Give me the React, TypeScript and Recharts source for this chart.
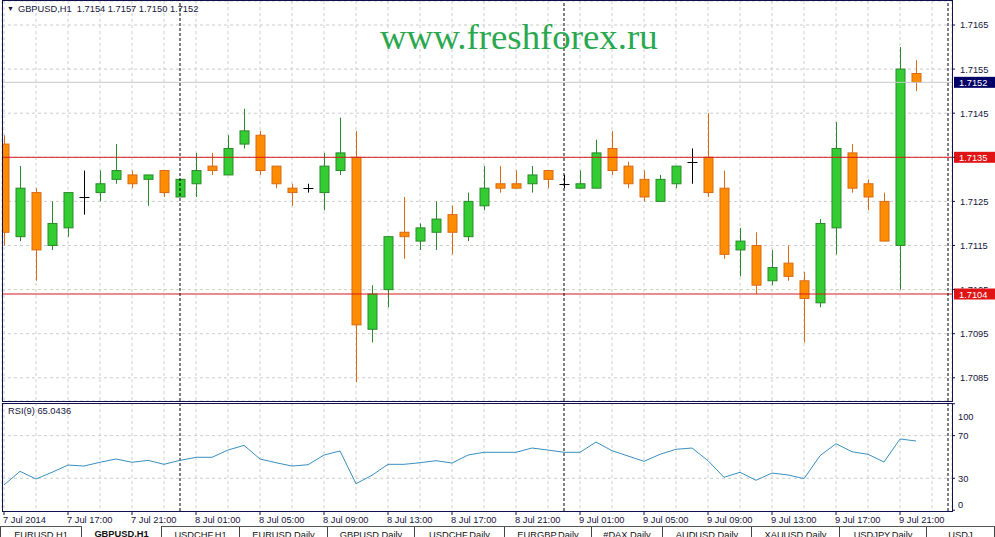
import React from 'react'
import {
  ComposedChart,
  LineChart,
  Line,
  Bar,
  XAxis,
  YAxis,
  CartesianGrid,
  ReferenceLine,
} from 'recharts'

// GBPUSD H1, 7 Jul 13:00 .. 9 Jul 22:00
const opens = [
  1.7138, 1.7117, 1.7127, 1.7115, 1.7119, 1.7126, 1.7127, 1.713, 1.7131, 1.713,
  1.7132, 1.7126, 1.7129, 1.7133, 1.7131, 1.7138, 1.714, 1.7133, 1.7128, 1.7128,
  1.7127, 1.7132, 1.7135, 1.7096, 1.7105, 1.7118, 1.7116, 1.7118, 1.7122, 1.7117,
  1.7124, 1.7129, 1.7129, 1.7129, 1.7132, 1.7129, 1.7128, 1.7128, 1.7137, 1.7133,
  1.713, 1.7125, 1.7129, 1.7134, 1.7135, 1.7128, 1.7114, 1.7115, 1.7107, 1.7111,
  1.7107, 1.7102, 1.7119, 1.7136, 1.7129, 1.7125, 1.7115, 1.7154,
]
const highs = [
  1.714, 1.7133, 1.7128, 1.7125, 1.7127, 1.7132, 1.7132, 1.7138, 1.7132, 1.7131,
  1.7132, 1.713, 1.7136, 1.7136, 1.714, 1.7146, 1.7141, 1.7133, 1.7129, 1.7129,
  1.7136, 1.7144, 1.7141, 1.7106, 1.7117, 1.7126, 1.712, 1.7125, 1.7124, 1.7127,
  1.7133, 1.7133, 1.7132, 1.7133, 1.7132, 1.7131, 1.7132, 1.7139, 1.7141, 1.7134,
  1.7132, 1.7131, 1.7133, 1.7137, 1.7145, 1.7132, 1.7119, 1.7118, 1.7114, 1.7115,
  1.7109, 1.7121, 1.7143, 1.7138, 1.713, 1.7127, 1.716, 1.7157,
]
const lows = [
  1.7115, 1.7116, 1.7107, 1.7114, 1.7117, 1.7122, 1.7125, 1.7129, 1.7128, 1.7124,
  1.7126, 1.7126, 1.7126, 1.7131, 1.7131, 1.7137, 1.7131, 1.7128, 1.7124, 1.7127,
  1.7123, 1.7131, 1.7084, 1.7093, 1.7101, 1.7112, 1.7114, 1.7114, 1.7113, 1.7116,
  1.7123, 1.7127, 1.7128, 1.7127, 1.7128, 1.7128, 1.7128, 1.7128, 1.7131, 1.7128,
  1.7125, 1.7125, 1.7128, 1.7129, 1.7126, 1.7112, 1.7108, 1.7104, 1.7106, 1.7107,
  1.7093, 1.7101, 1.7113, 1.7127, 1.7123, 1.7116, 1.7105, 1.715,
]
const closes = [
  1.7118, 1.7128, 1.7114, 1.712, 1.7127, 1.7126, 1.7129, 1.7132, 1.7129, 1.7131,
  1.7127, 1.713, 1.7132, 1.7132, 1.7137, 1.7141, 1.7132, 1.7129, 1.7127, 1.7128,
  1.7133, 1.7136, 1.7097, 1.7104, 1.7117, 1.7117, 1.7119, 1.7121, 1.7118, 1.7125,
  1.7128, 1.7128, 1.7128, 1.7131, 1.713, 1.7129, 1.7129, 1.7136, 1.7132, 1.7129,
  1.7126, 1.713, 1.7133, 1.7134, 1.7127, 1.7113, 1.7116, 1.7106, 1.711, 1.7108,
  1.7103, 1.712, 1.7137, 1.7128, 1.7126, 1.7116, 1.7155, 1.7152,
]
const rsiValues = [
  23.7, 36.5, 29.3, 35.6, 42.4, 41.5, 45.0, 48.1, 45.0, 46.8,
  43.1, 46.8, 49.7, 49.7, 56.5, 60.9, 48.1, 44.6, 41.5, 42.7,
  51.8, 55.6, 24.9, 32.8, 43.1, 43.1, 44.6, 46.5, 44.3, 51.8,
  54.4, 54.4, 54.4, 58.4, 56.5, 54.4, 54.4, 64.0, 55.9, 50.9,
  45.9, 52.5, 57.2, 58.4, 46.5, 30.9, 35.6, 28.1, 34.9, 33.1,
  29.6, 51.2, 62.5, 54.9, 52.5, 45.3, 66.9, 65.0,
]
const timeLabels = [
  '7 Jul 2014', '7 Jul 17:00', '7 Jul 21:00', '8 Jul 01:00', '8 Jul 05:00',
  '8 Jul 09:00', '8 Jul 13:00', '8 Jul 17:00', '8 Jul 21:00', '9 Jul 01:00',
  '9 Jul 05:00', '9 Jul 09:00', '9 Jul 13:00', '9 Jul 17:00', '9 Jul 21:00',
]
const priceTicks = [1.7085, 1.7095, 1.7105, 1.7115, 1.7125, 1.7135, 1.7145, 1.7155, 1.7165]
const rsiTicks = [0, 30, 70, 100]
const daySeparators = [11, 35]
const levels = [1.7135, 1.7104]
const bid = 1.7152
const tabs = [
  'EURUSD,H1', 'GBPUSD,H1', 'USDCHF,H1', 'EURUSD,Daily', 'GBPUSD,Daily', 'USDCHF,Daily',
  'EURGBP,Daily', '#DAX,Daily', 'AUDUSD,Daily', 'XAUUSD,Daily', 'USDJPY,Daily', 'USDJ',
]
const tabWidths = [82, 80, 78, 88, 87, 90, 87, 71, 89, 88, 87, 68]

const data = opens.map((o, i) => ({
  i,
  open: o,
  high: highs[i],
  low: lows[i],
  close: closes[i],
  range: [lows[i], highs[i]],
  rsi: rsiValues[i],
}))

const gridTicks = Array.from({ length: 30 }, (_, k) => k * 2)
const xDomain = [-0.125, 59.25]
const FONT = '"Liberation Sans", Arial, sans-serif'
const INK = '#14143c'
const FRAME = '#10104a'

const Candle = (props: any) => {
  const { x, y, width, height, payload } = props
  const { open, close, high, low } = payload
  const top = Math.min(y, y + height)
  const h = Math.abs(height)
  const py = (v: number) => top + ((high - v) / (high - low)) * h
  const cx = Math.round(x + width / 2) + 0.5
  if (open === close) {
    const yy = Math.round(py(open)) + 0.5
    return (
      <g>
        <line x1={cx} x2={cx} y1={top} y2={top + h} stroke="#000" />
        <line x1={cx - 5} x2={cx + 5} y1={yy} y2={yy} stroke="#000" />
      </g>
    )
  }
  const up = close > open
  const fill = up ? '#33cc33' : '#ff8c00'
  const stroke = up ? '#2a8a2a' : '#d86a12'
  const bTop = py(Math.max(open, close))
  const bBot = py(Math.min(open, close))
  return (
    <g>
      <line x1={cx} x2={cx} y1={top} y2={top + h} stroke={stroke} />
      <rect x={cx - 4.5} y={bTop} width={9} height={Math.max(bBot - bTop, 1)} fill={fill} stroke={stroke} />
    </g>
  )
}

// axis text sits under the level boxes on the right, like the terminal draws it
const PriceTick = (props: any) => {
  const { x, y, payload } = props
  const v = payload.value
  if (levels.some((l) => Math.abs(l - v) < 0.00002)) return null
  const nearBox = levels.some((l) => Math.abs(l - v) < 0.00015)
  const id = `clip-${v}`
  return (
    <g>
      {nearBox && (
        <clipPath id={id}>
          <rect x={x - 2} y={y - 12} width={45} height={11} />
        </clipPath>
      )}
      <text x={x} y={y} dy={3.5} fontSize={9.3} fontFamily={FONT} fill={INK} clipPath={nearBox ? `url(#${id})` : undefined}>
        {v.toFixed(4)}
      </text>
    </g>
  )
}

const RsiTick = (props: any) => {
  const { x, y, payload } = props
  const shift = payload.value === 100 ? 6 : payload.value === 0 ? -6 : 0
  return (
    <text x={x} y={y + shift} dy={3.5} fontSize={9.3} fontFamily={FONT} fill={INK}>
      {payload.value}
    </text>
  )
}

const TimeTick = (props: any) => {
  const { x, y, payload } = props
  if (payload.value % 4 !== 0) return null
  const label = timeLabels[payload.value / 4]
  return (
    <g>
      <line x1={x} x2={x} y1={y} y2={y + 4} stroke={FRAME} />
      <text x={x - 1} y={y + 12} fontSize={9.3} fontFamily={FONT} fill={INK}>
        {label}
      </text>
    </g>
  )
}

const priceBox = (value: number, color: string) => (p: any) => {
  const { viewBox } = p
  const bx = viewBox.x + viewBox.width + 2
  const by = viewBox.y
  return (
    <g>
      <rect x={bx} y={by - 5.5} width={41} height={11} fill={color} />
      <text x={bx + 5} y={by + 3.5} fontSize={9.3} fontFamily={FONT} fill="#fff">
        {value.toFixed(4)}
      </text>
    </g>
  )
}

export default function App() {
  return (
    <div
      style={{
        position: 'absolute',
        left: 0,
        top: 0,
        width: 995,
        height: 537,
        overflow: 'hidden',
        background: '#fff',
        fontFamily: FONT,
      }}
    >
      <div style={{ position: 'absolute', left: 0, top: 0 }}>
        <ComposedChart width={995} height={403} data={data} margin={{ top: 1, right: 0, bottom: 2, left: 2 }}>
          <CartesianGrid stroke="#cccccc" strokeDasharray="3 3" />
          <XAxis dataKey="i" type="number" domain={xDomain} ticks={gridTicks} hide allowDataOverflow />
          <YAxis
            orientation="right"
            type="number"
            domain={[1.7079739, 1.7170442]}
            ticks={priceTicks}
            allowDataOverflow
            width={43}
            axisLine={false}
            tickSize={3}
            tickMargin={5}
            tickLine={{ stroke: FRAME }}
            tick={<PriceTick />}
          />
          <ReferenceLine y={bid} stroke="#c8c8c8" label={priceBox(bid, '#000066')} />
          {levels.map((v) => (
            <ReferenceLine key={v} y={v} stroke="#d81818" label={priceBox(v, '#e01414')} />
          ))}
          {daySeparators.map((v) => (
            <ReferenceLine key={v} x={v} stroke="#000" strokeDasharray="3 2" />
          ))}
          <ReferenceLine x={59} stroke="#000" strokeDasharray="3 2" />
          <Bar dataKey="range" barSize={10} shape={<Candle />} isAnimationActive={false} />
        </ComposedChart>
      </div>

      <div style={{ position: 'absolute', left: 0, top: 401 }}>
        <LineChart width={995} height={126} data={data} margin={{ top: 2, right: 0, bottom: 0, left: 2 }}>
          <CartesianGrid stroke="#cccccc" strokeDasharray="3 3" horizontalValues={[30, 70]} />
          <XAxis
            dataKey="i"
            type="number"
            domain={xDomain}
            ticks={gridTicks}
            allowDataOverflow
            height={16}
            axisLine={false}
            tickLine={false}
            tickSize={0}
            tickMargin={0}
            tick={<TimeTick />}
            interval={0}
          />
          <YAxis
            orientation="right"
            type="number"
            domain={[-0.75, 100.7]}
            ticks={rsiTicks}
            allowDataOverflow
            width={43}
            axisLine={false}
            tickSize={3}
            tickMargin={3}
            tickLine={{ stroke: FRAME }}
            tick={<RsiTick />}
          />
          {daySeparators.map((v) => (
            <ReferenceLine key={v} x={v} stroke="#000" strokeDasharray="3 2" />
          ))}
          <ReferenceLine x={59} stroke="#000" strokeDasharray="3 2" />
          <Line dataKey="rsi" stroke="#3a8fbf" strokeWidth={1} dot={false} type="linear" isAnimationActive={false} />
        </LineChart>
      </div>

      {/* pane frames */}
      <div style={{ position: 'absolute', left: 2, top: 0, width: 951, height: 402, boxSizing: 'border-box', border: `1px solid ${FRAME}`, pointerEvents: 'none' }} />
      <div style={{ position: 'absolute', left: 2, top: 403, width: 951, height: 109, boxSizing: 'border-box', border: `1px solid ${FRAME}`, pointerEvents: 'none' }} />

      <div style={{ position: 'absolute', left: 7, top: 4, fontSize: 9.3, color: INK, whiteSpace: 'pre' }}>
        <span style={{ fontSize: 7, marginRight: 4, verticalAlign: 1 }}>▼</span>
        {'GBPUSD,H1  1.7154 1.7157 1.7150 1.7152'}
      </div>
      <div style={{ position: 'absolute', left: 8, top: 406, fontSize: 9.3, color: INK }}>RSI(9) 65.0436</div>
      <div
        style={{
          position: 'absolute',
          left: 380,
          top: 19,
          fontFamily: '"Liberation Serif", "Times New Roman", serif',
          fontSize: 36.8,
          lineHeight: '36px',
          color: '#2aa84f',
          whiteSpace: 'nowrap',
        }}
      >
        www.freshforex.ru
      </div>

      {/* symbol tabs */}
      <div style={{ position: 'absolute', left: 0, top: 526, width: 995, height: 11, borderTop: '1px solid #555', background: '#fff', display: 'flex' }}>
        {tabs.map((t, k) => (
          <div
            key={t}
            style={{
              width: tabWidths[k],
              flex: 'none',
              boxSizing: 'border-box',
              borderRight: '1px solid #444',
              borderLeft: k === 0 ? '1px solid #444' : undefined,
              fontSize: 9.3,
              color: '#111',
              textAlign: 'center',
              paddingTop: 3,
              fontWeight: k === 1 ? 'bold' : 'normal',
              marginTop: k === 1 ? -1 : 0,
              background: '#fff',
            }}
          >
            {t}
          </div>
        ))}
      </div>
    </div>
  )
}
